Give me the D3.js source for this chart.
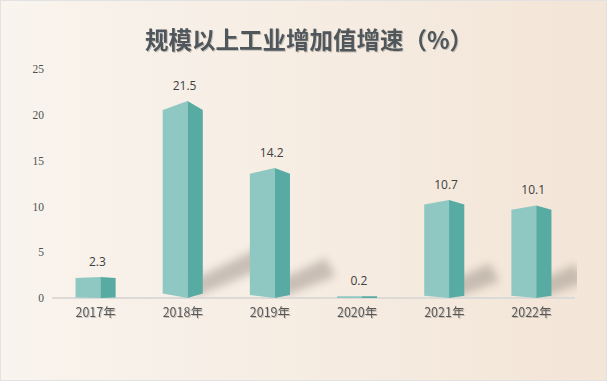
<!DOCTYPE html>
<html>
<head>
<meta charset="utf-8">
<script src="https://cdn.jsdelivr.net/npm/d3@7"></script>
<style>
  html, body { margin: 0; padding: 0; background: #fff; }
  svg { display: block; }
</style>
</head>
<body>
<div id="chart"></div>
<script>
// data
var years = ['2017年', '2018年', '2019年', '2020年', '2021年', '2022年'];
var growth = [2.3, 21.5, 14.2, 0.2, 10.7, 10.1];
var yTicks = [0, 5, 10, 15, 20, 25];
var title = '规模以上工业增加值增速（%）';

var width = 607, height = 381;
var plot = {left: 52, right: 575, top: 69, bottom: 298};

var svg = d3.select('#chart').append('svg')
  .attr('width', width)
  .attr('height', height);

var defs = svg.append('defs');

var bg = defs.append('linearGradient').attr('id', 'bg')
  .attr('x1', 0).attr('y1', 0).attr('x2', 1).attr('y2', 0);
bg.append('stop').attr('offset', '0%').attr('stop-color', '#f9f4ee');
bg.append('stop').attr('offset', '100%').attr('stop-color', '#f3e5d7');

defs.append('filter').attr('id', 'blur')
  .attr('x', '-50%').attr('y', '-50%').attr('width', '200%').attr('height', '200%')
  .append('feGaussianBlur').attr('stdDeviation', 4.5);

defs.append('clipPath').attr('id', 'plotClip')
  .append('rect')
  .attr('x', plot.left).attr('y', 0)
  .attr('width', plot.right - plot.left + 2).attr('height', plot.bottom);

var textShadow = defs.append('filter').attr('id', 'tshadow')
  .attr('x', '-10%').attr('y', '-20%').attr('width', '120%').attr('height', '150%');
textShadow.append('feDropShadow')
  .attr('dx', 1).attr('dy', 1).attr('stdDeviation', 0.6)
  .attr('flood-color', '#000').attr('flood-opacity', 0.2);

// background + thin border
svg.append('rect')
  .attr('x', 0.5).attr('y', 0.5)
  .attr('width', width - 1).attr('height', height - 1)
  .attr('fill', 'url(#bg)')
  .attr('stroke', '#e2e2e2');

var x = d3.scaleBand()
  .domain(years)
  .range([plot.left, plot.right])
  .paddingInner(0.54)
  .paddingOuter(0.27);

var y = d3.scaleLinear()
  .domain([0, 25])
  .range([plot.bottom, plot.top]);

// title
svg.append('text')
  .attr('x', 309)
  .attr('y', 49)
  .attr('text-anchor', 'middle')
  .attr('font-family', '"Noto Sans CJK SC", sans-serif')
  .attr('font-weight', 'bold')
  .attr('font-size', 23.5)
  .attr('fill', '#50565b')
  .attr('filter', 'url(#tshadow)')
  .text(title);

// y axis labels (no line)
var yAxis = svg.append('g')
  .attr('transform', 'translate(' + (plot.left - 8) + ',0)')
  .call(d3.axisLeft(y).tickValues(yTicks).tickSize(0).tickPadding(0));
yAxis.select('.domain').remove();
yAxis.selectAll('text')
  .attr('font-family', '"Liberation Serif", serif')
  .attr('font-size', 11.5)
  .attr('fill', '#505050');

// shadows behind the columns
var shadows = svg.append('g').attr('clip-path', 'url(#plotClip)');
years.forEach(function (d, i) {
  var h = y(0) - y(growth[i]);
  if (h < 40) return;
  var xr = x(d) + x.bandwidth();
  var len = 0.32 * h;
  var rise = 0.5 * len;
  var base = y(0) - 1;
  var pts = [
    [xr - 8, base],
    [xr - 8, base - 18],
    [xr + len - 6, base - 18 - rise],
    [xr + len + 4, base - rise]
  ];
  shadows.append('path')
    .attr('d', d3.line()(pts) + 'Z')
    .attr('fill', '#9a8f86')
    .attr('opacity', 0.5)
    .attr('filter', 'url(#blur)');
});

// baseline
svg.append('line')
  .attr('x1', plot.left).attr('x2', plot.right)
  .attr('y1', y(0)).attr('y2', y(0))
  .attr('stroke', '#dcdad6')
  .attr('stroke-width', 2);

// columns drawn as two faces of a prism
var bars = svg.append('g');
years.forEach(function (d, i) {
  var x0 = x(d);
  var w = x.bandwidth();
  var xm = x0 + w * 0.62;
  var x1 = x0 + w;
  var yt = y(growth[i]);
  var yb = y(0);
  var h = yb - yt;
  var topOff = 0.045 * h;
  var botOff = 0.023 * h;

  bars.append('path')
    .attr('d', d3.line()([
      [x0, yt + topOff], [xm, yt], [xm, yb], [x0, yb - botOff]
    ]) + 'Z')
    .attr('fill', '#8fc8c2');

  bars.append('path')
    .attr('d', d3.line()([
      [xm, yt], [x1, yt + topOff], [x1, yb - botOff], [xm, yb]
    ]) + 'Z')
    .attr('fill', '#57aba3');

  bars.append('text')
    .attr('x', xm - 3)
    .attr('y', yt - 11)
    .attr('text-anchor', 'middle')
    .attr('font-family', '"Open Sans", sans-serif')
    .attr('font-size', 12)
    .attr('fill', '#404040')
    .text(growth[i]);
});

// x axis labels
var xAxis = svg.append('g')
  .attr('transform', 'translate(0,' + y(0) + ')')
  .call(d3.axisBottom(x).tickSize(0).tickPadding(10));
xAxis.select('.domain').remove();
xAxis.selectAll('text')
  .attr('font-family', '"Noto Sans CJK SC", sans-serif')
  .attr('font-size', 12.5)
  .attr('fill', '#595959')
  .attr('filter', 'url(#tshadow)');
</script>
</body>
</html>
